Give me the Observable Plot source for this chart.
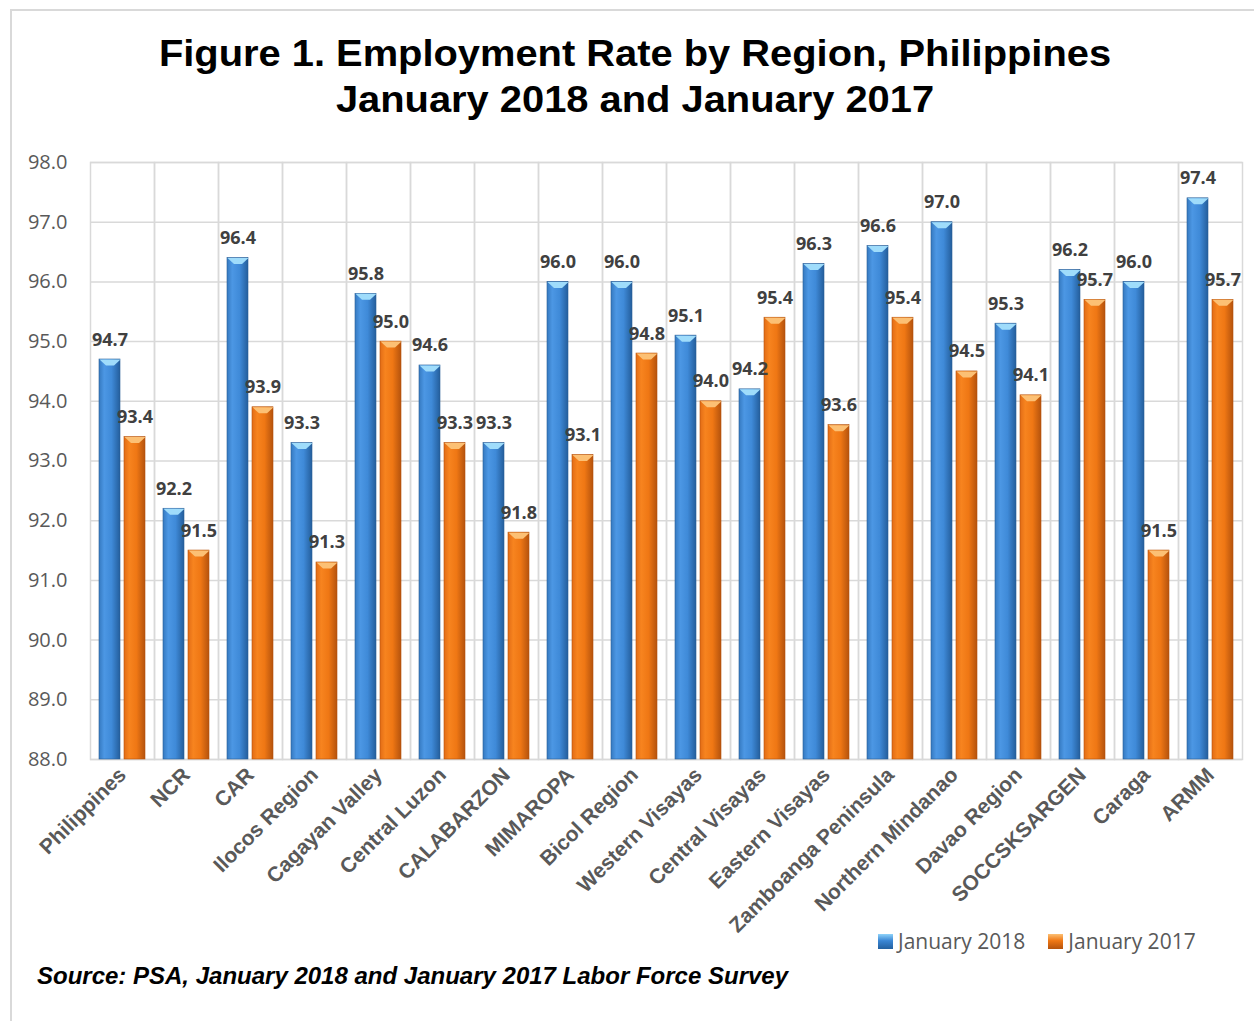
<!DOCTYPE html>
<html>
<head>
<meta charset="utf-8">
<script src="https://cdn.jsdelivr.net/npm/d3@7"></script>
<script src="https://cdn.jsdelivr.net/npm/@observablehq/plot@0.6"></script>
<style>
  html, body { margin: 0; padding: 0; background: #fff; }
  #page { position: relative; width: 1254px; height: 1021px; overflow: hidden; }
  #frame { position: absolute; left: 10px; top: 9px; width: 1260px; height: 1030px; border: 2px solid #d9d9d9; box-sizing: border-box; }
  #title { position: absolute; left: 10px; width: 1250px; top: 31px; text-align: center;
    font-family: "Liberation Sans", Arial, sans-serif; font-weight: bold; font-size: 36px; line-height: 46px; color: #000;
    transform: scaleX(1.107); transform-origin: 625px 0; }
  #chart { position: absolute; left: 0; top: 130px; }
  #legend { position: absolute; left: 878px; top: 927px; font-family: "Open Sans", sans-serif; font-size: 21px; color: #595959; display: flex; align-items: center; }
  .sw { display: inline-block; width: 15px; height: 15px; margin-right: 5px; }
  #source { position: absolute; left: 37px; top: 962px; font-family: "Liberation Sans", Arial, sans-serif; font-weight: bold; font-style: italic; font-size: 24px; color: #000; }
</style>
</head>
<body>
<div id="page">
  <div id="frame"></div>
  <div id="title">Figure 1. Employment Rate by Region, Philippines<br>January 2018 and January 2017</div>
  <div id="chart"></div>
  <div id="legend"></div>
  <div id="source">Source: PSA, January 2018 and January 2017 Labor Force Survey</div>
</div>
<script>
const regions = ["Philippines","NCR","CAR","Ilocos Region","Cagayan Valley","Central Luzon","CALABARZON","MIMAROPA","Bicol Region","Western Visayas","Central Visayas","Eastern Visayas","Zamboanga Peninsula","Northern Mindanao","Davao Region","SOCCSKSARGEN","Caraga","ARMM"];
const series = ["January 2018","January 2017"];
const values2018 = [94.7,92.2,96.4,93.3,95.8,94.6,93.3,96.0,96.0,95.1,94.2,96.3,96.6,97.0,95.3,96.2,96.0,97.4];
const values2017 = [93.4,91.5,93.9,91.3,95.0,93.3,91.8,93.1,94.8,94.0,95.4,93.6,95.4,94.5,94.1,95.7,91.5,95.7];
const yTicks = [88,89,90,91,92,93,94,95,96,97,98];

const d2018 = regions.map((r,i) => ({region: r, series: series[0], value: values2018[i]}));
const d2017 = regions.map((r,i) => ({region: r, series: series[1], value: values2017[i]}));

const capSymbol = {
  draw(ctx) {
    ctx.moveTo(-10.5, 0); ctx.lineTo(10.5, 0); ctx.lineTo(4, 6); ctx.lineTo(-4, 6); ctx.closePath();
  }
};

const common = {fx: "region", x: "series", y: "value"};

const svg = Plot.plot({
  width: 1254,
  height: 835,
  marginLeft: 90,
  marginRight: 12,
  marginTop: 32,
  marginBottom: 206,
  fx: {domain: regions, paddingInner: 0, paddingOuter: 0, label: null, axis: null},
  x: {domain: series, paddingInner: 0.16, paddingOuter: 0.36, axis: null},
  y: {domain: [88, 98], axis: null},
  style: {background: "transparent", overflow: "visible"},
  marks: [
    Plot.gridY(yTicks, {stroke: "#d9d9d9", strokeOpacity: 1, strokeWidth: 1.5}),
    Plot.frame({stroke: "#d9d9d9", strokeWidth: 1.5}),
    Plot.axisY(yTicks, {tickSize: 0, tickPadding: 23, tickFormat: d => d.toFixed(1), fontSize: 20, fill: "#595959", fontFamily: "Open Sans, sans-serif", label: null}),
    Plot.axisFx({anchor: "bottom", tickRotate: -45, tickSize: 0, tickPadding: 12, fontSize: 21, fontWeight: "bold", fill: "#595959", fontFamily: "Liberation Sans, Arial, sans-serif", label: null, textOverflow: null, lineWidth: Infinity}),
    Plot.barY(d2018, {fx: "region", x: "series", y1: 88, y2: "value", fill: "url(#gBlue)", stroke: "#2a5f96", strokeWidth: 0.6}),
    Plot.barY(d2017, {fx: "region", x: "series", y1: 88, y2: "value", fill: "url(#gOrange)", stroke: "#b5530d", strokeWidth: 0.6}),
    Plot.dot(d2018, {...common, symbol: capSymbol, r: 3, fill: "#9fdcfb", stroke: "none"}),
    Plot.dot(d2017, {...common, symbol: capSymbol, r: 3, fill: "#fcc074", stroke: "none"}),
    Plot.text([...d2018, ...d2017], {...common, text: d => d.value.toFixed(1), lineAnchor: "bottom", dy: -14,
      fontSize: 18, fontWeight: "bold", fill: "#404040", fontFamily: "Open Sans, sans-serif"})
  ]
});

const defs = d3.select(svg).insert("defs", ":first-child");
function grad(id, stops) {
  const g = defs.append("linearGradient").attr("id", id).attr("x1", "0").attr("x2", "1").attr("y1", "0").attr("y2", "0");
  stops.forEach(([o, c]) => g.append("stop").attr("offset", o).attr("stop-color", c));
}
grad("gBlue", [["0%", "#3579c0"], ["25%", "#4c97e4"], ["60%", "#3f8ad8"], ["100%", "#245e9c"]]);
grad("gOrange", [["0%", "#e26c16"], ["25%", "#f7841f"], ["60%", "#ef7714"], ["100%", "#b5530d"]]);

document.getElementById("chart").appendChild(svg);

const legend = document.getElementById("legend");
[["January 2018", "linear-gradient(to bottom, #8fd3fa 0%, #3a86d4 45%, #23609f 100%)"],
 ["January 2017", "linear-gradient(to bottom, #fcc074 0%, #ef7714 45%, #b5530d 100%)"]].forEach(([s, bg], i) => {
  const item = document.createElement("span");
  item.style.display = "inline-flex"; item.style.alignItems = "center";
  item.style.marginRight = i === 0 ? "23px" : "0";
  const sw = document.createElement("span"); sw.className = "sw"; sw.style.background = bg;
  item.appendChild(sw);
  item.appendChild(document.createTextNode(s));
  legend.appendChild(item);
});
</script>
</body>
</html>
